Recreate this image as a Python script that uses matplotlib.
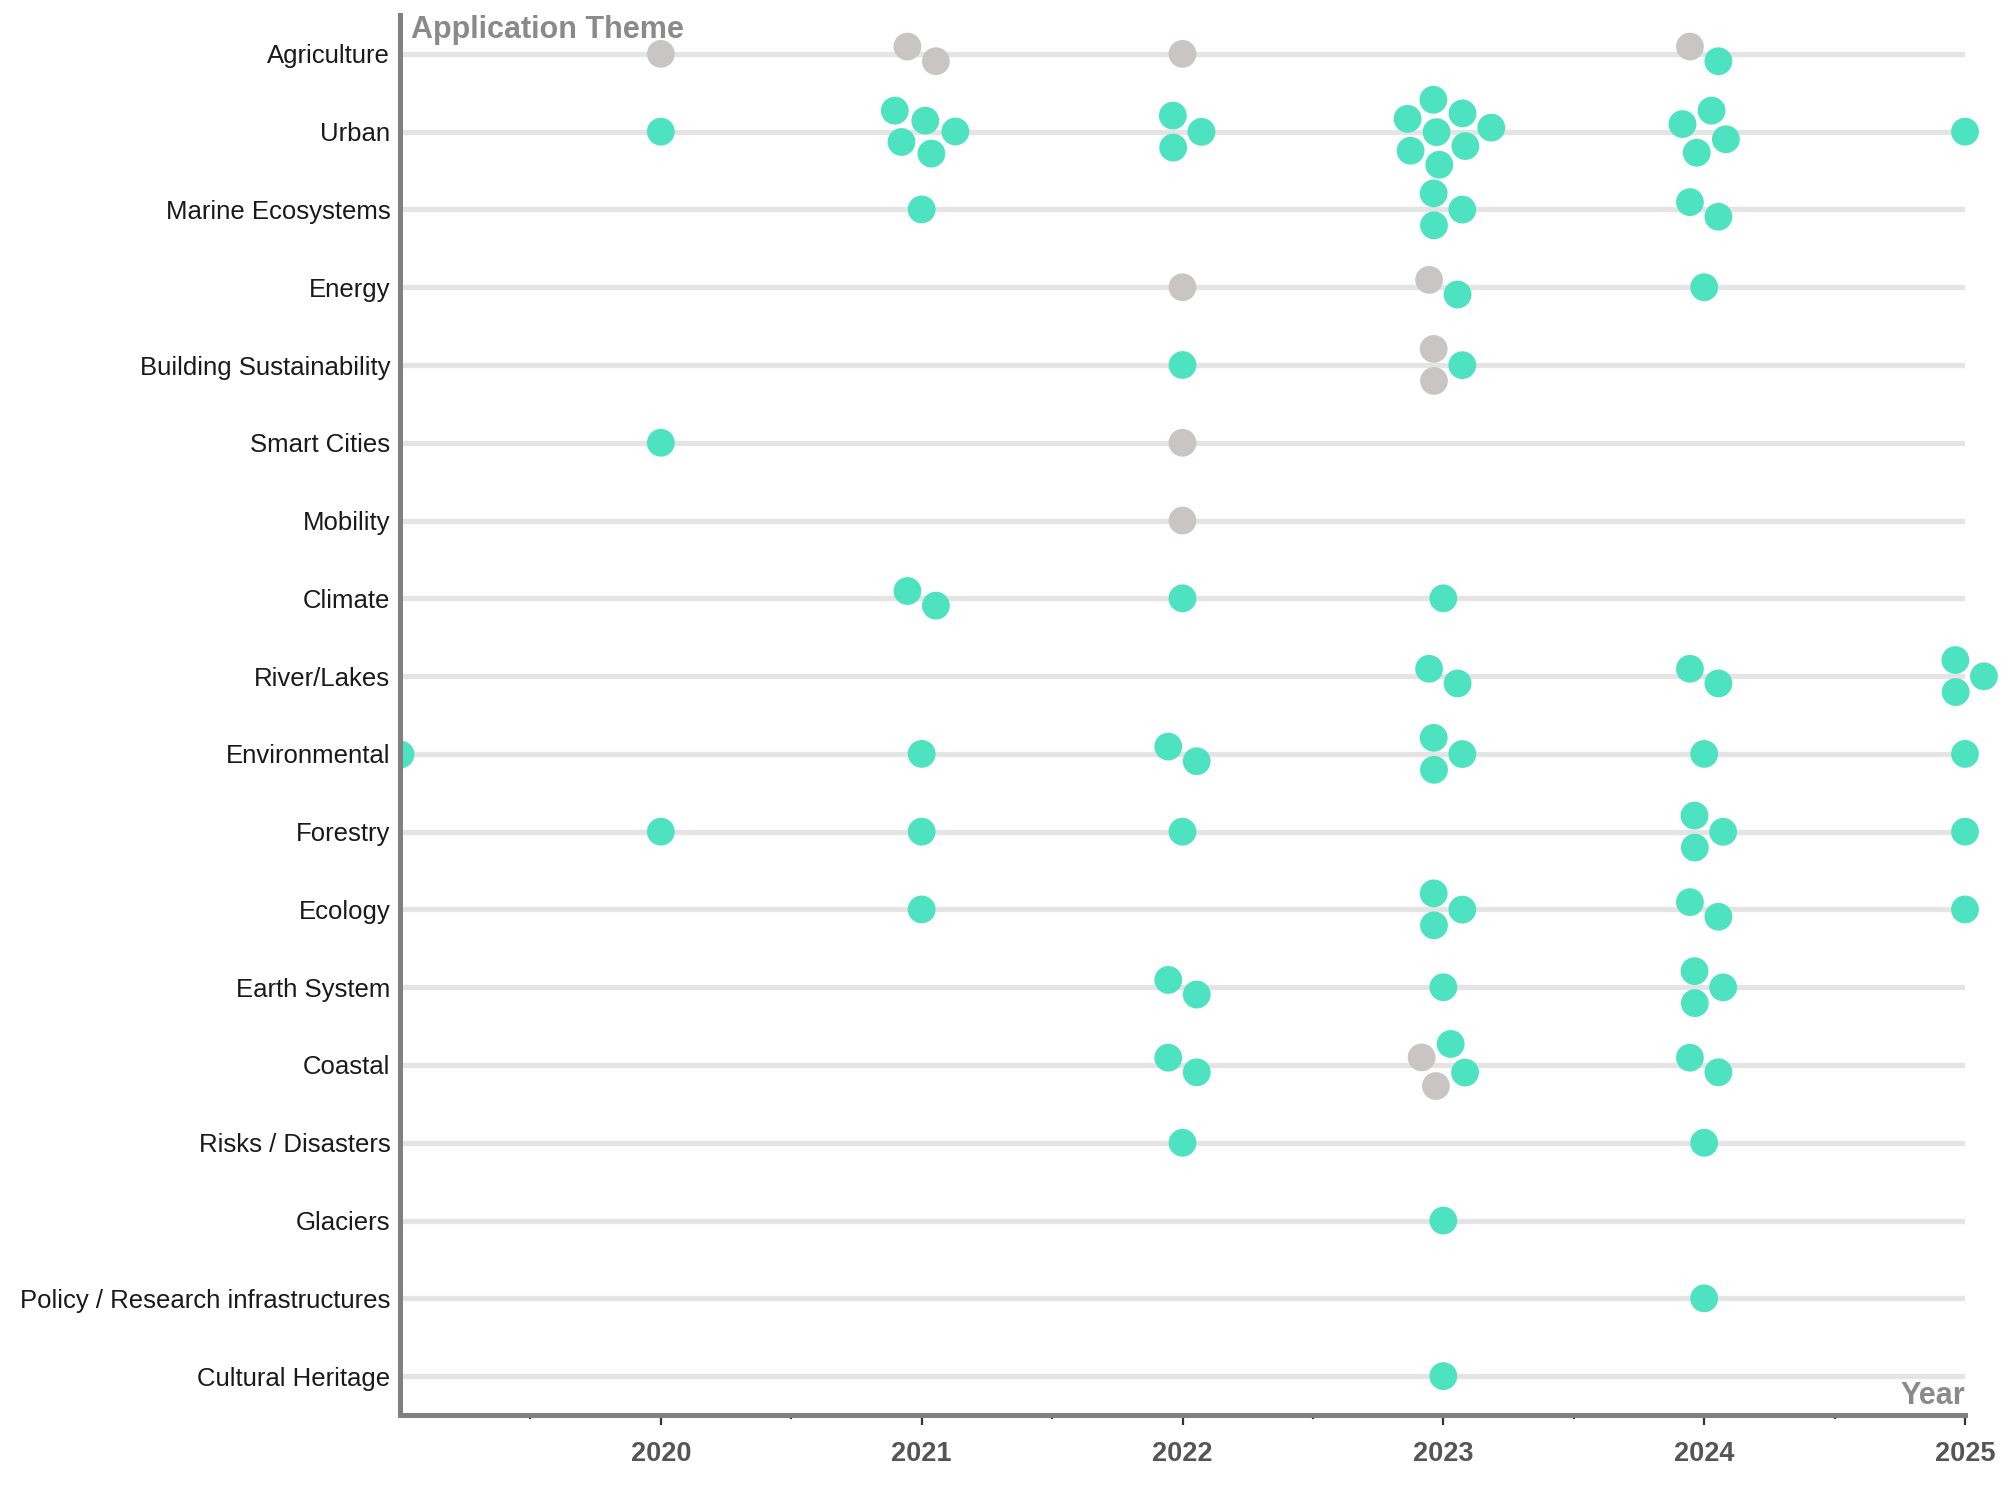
import numpy as np
import matplotlib
matplotlib.use("Agg")
import matplotlib.pyplot as plt
from matplotlib.ticker import FixedLocator

# ---------------- data ----------------
themes = ["Agriculture", "Urban", "Marine Ecosystems", "Energy",
          "Building Sustainability", "Smart Cities", "Mobility", "Climate",
          "River/Lakes", "Environmental", "Forestry", "Ecology",
          "Earth System", "Coastal", "Risks / Disasters", "Glaciers",
          "Policy / Research infrastructures", "Cultural Heritage"]
years = [2019, 2020, 2021, 2022, 2023, 2024, 2025]

# number of studies per theme and year (teal category)
teal_counts = [
    [0, 0, 0, 0, 0, 1, 0],  # Agriculture
    [0, 1, 5, 3, 8, 4, 1],  # Urban
    [0, 0, 1, 0, 3, 2, 0],  # Marine Ecosystems
    [0, 0, 0, 0, 1, 1, 0],  # Energy
    [0, 0, 0, 1, 1, 0, 0],  # Building Sustainability
    [0, 1, 0, 0, 0, 0, 0],  # Smart Cities
    [0, 0, 0, 0, 0, 0, 0],  # Mobility
    [0, 0, 2, 1, 1, 0, 0],  # Climate
    [0, 0, 0, 0, 2, 2, 3],  # River/Lakes
    [1, 0, 1, 2, 3, 1, 1],  # Environmental
    [0, 1, 1, 1, 0, 3, 1],  # Forestry
    [0, 0, 1, 0, 3, 2, 1],  # Ecology
    [0, 0, 0, 2, 1, 3, 0],  # Earth System
    [0, 0, 0, 2, 2, 2, 0],  # Coastal
    [0, 0, 0, 1, 0, 1, 0],  # Risks / Disasters
    [0, 0, 0, 0, 1, 0, 0],  # Glaciers
    [0, 0, 0, 0, 0, 1, 0],  # Policy / Research infrastructures
    [0, 0, 0, 0, 1, 0, 0],  # Cultural Heritage
]
# number of studies per theme and year (grey category)
grey_counts = [
    [0, 1, 2, 1, 0, 1, 0],  # Agriculture
    [0, 0, 0, 0, 0, 0, 0],
    [0, 0, 0, 0, 0, 0, 0],
    [0, 0, 0, 1, 1, 0, 0],  # Energy
    [0, 0, 0, 0, 2, 0, 0],  # Building Sustainability
    [0, 0, 0, 1, 0, 0, 0],  # Smart Cities
    [0, 0, 0, 1, 0, 0, 0],  # Mobility
    [0, 0, 0, 0, 0, 0, 0],
    [0, 0, 0, 0, 0, 0, 0],
    [0, 0, 0, 0, 0, 0, 0],
    [0, 0, 0, 0, 0, 0, 0],
    [0, 0, 0, 0, 0, 0, 0],
    [0, 0, 0, 0, 0, 0, 0],
    [0, 0, 0, 0, 2, 0, 0],  # Coastal
    [0, 0, 0, 0, 0, 0, 0],
    [0, 0, 0, 0, 0, 0, 0],
    [0, 0, 0, 0, 0, 0, 0],
    [0, 0, 0, 0, 0, 0, 0],
]
major_ticks = [2020, 2021, 2022, 2023, 2024, 2025]

TEAL = "#4de2c0"
GREY = "#cac5c5"

# ---------------- figure ----------------
W, H, DPI = 2011, 1491, 100
fig = plt.figure(figsize=(W / DPI, H / DPI), dpi=DPI)
ax_left, ax_right = 400 / W, 1965 / W
ax_bottom, ax_top = 1 - 1415 / H, 1 - 15 / H
ax = fig.add_axes([ax_left, ax_bottom, ax_right - ax_left, ax_top - ax_bottom])

x0, x1 = years[0], years[-1]
nrow = len(themes)
ax.set_xlim(x0, x1)
ax.set_ylim(nrow - 0.5, -0.5)

px_per_year = (ax_right - ax_left) * W / (x1 - x0)
px_per_row = (ax_top - ax_bottom) * H / nrow


def swarm(n, d=32.0):
    """Compact collision layout (pixel offsets) around a centre."""
    i = np.arange(n)
    r = 10 * np.sqrt(0.5 + i)
    a = i * np.pi * (3 - np.sqrt(5))
    p = np.c_[r * np.cos(a), -r * np.sin(a)].astype(float)
    for _ in range(400):
        p *= 0.92
        for _ in range(3):
            for j in range(n):
                for k in range(j + 1, n):
                    v = p[k] - p[j]
                    dist = np.hypot(*v)
                    if dist < 1e-9:
                        v = np.array([1e-3, 1e-3]); dist = np.hypot(*v)
                    if dist < d:
                        push = (d - dist) / 2 * v / dist
                        p[j] -= push
                        p[k] += push
    return p - p.mean(axis=0)


xs, ys, cs, clip = [], [], [], []
for ti in range(nrow):
    for yi, yr in enumerate(years):
        ng, nt = grey_counts[ti][yi], teal_counts[ti][yi]
        n = ng + nt
        if n == 0:
            continue
        off = swarm(n)
        order = np.argsort(off[:, 0])
        off = off[order]
        cols = [GREY] * ng + [TEAL] * nt
        for (dx, dy), c in zip(off, cols):
            xs.append(yr + dx / px_per_year)
            ys.append(ti + dy / px_per_row)
            cs.append(c)
            clip.append(yr == x0)

xs, ys, cs, clip = map(np.array, (xs, ys, cs, clip))

# horizontal guide lines
ax.hlines(range(nrow), x0, x1, color="#e4e4e4", lw=3.8, zorder=1)

S = 400
m = ~clip
ax.scatter(xs[m], ys[m], s=S, c=cs[m], linewidths=0, zorder=3, clip_on=False)
ax.scatter(xs[clip], ys[clip], s=S, c=cs[clip], linewidths=0, zorder=2, clip_on=True)

# spines
for s in ["top", "right"]:
    ax.spines[s].set_visible(False)
for s in ["left", "bottom"]:
    ax.spines[s].set_color("#808080")
    ax.spines[s].set_linewidth(3.6)
    ax.spines[s].set_zorder(4)

font = ["Liberation Sans", "DejaVu Sans"]

ax.set_yticks(range(nrow))
ax.set_yticklabels(themes, fontsize=18.5, color="#1a1a1a", family=font)
ax.tick_params(axis="y", length=0, pad=7)

ax.set_xticks(major_ticks)
ax.set_xticklabels([str(t) for t in major_ticks], fontsize=19.5, fontweight="bold",
                   color="#555555", family=font)
ax.xaxis.set_minor_locator(FixedLocator([y + 0.5 for y in years[:-1]]))
ax.tick_params(axis="x", which="major", length=7, width=1.6, color="#333333", pad=12)
ax.tick_params(axis="x", which="minor", length=3, width=1.6, color="#333333")

ax.text(0.007, 1.0, "Application Theme", transform=ax.transAxes, ha="left", va="top",
        fontsize=22, fontweight="bold", color="#8a8a8a", family=font)
ax.text(1.0, 0.003, "Year", transform=ax.transAxes, ha="right", va="bottom",
        fontsize=22, fontweight="bold", color="#8a8a8a", family=font)

fig.savefig("out.png", dpi=DPI)
